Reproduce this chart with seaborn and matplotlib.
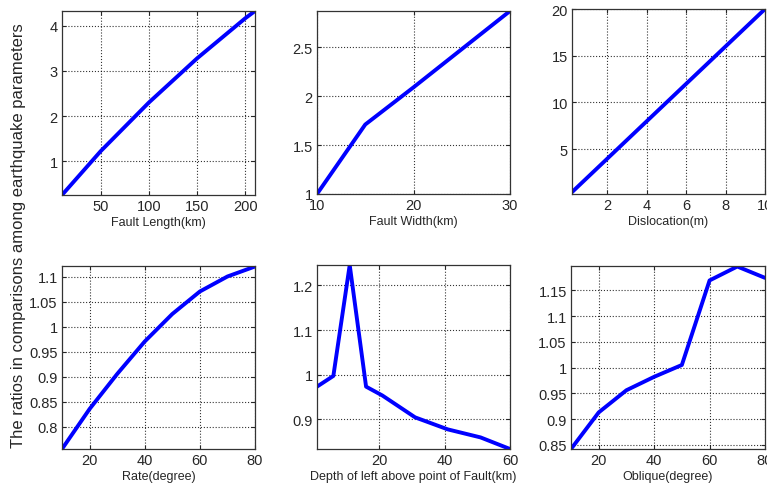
import numpy as np
import pandas as pd
import seaborn as sns
import matplotlib.pyplot as plt

# Data
length_x = [10, 50, 100, 150, 200, 210]
length_y = [0.25, 1.22, 2.3, 3.28, 4.17, 4.33]

width_x = [10, 15, 20, 25, 30]
width_y = [1.0, 1.71, 2.09, 2.48, 2.87]

disloc_x = [0.2, 2, 4, 6, 8, 10]
disloc_y = [0.4, 4.0, 8.0, 12.0, 16.0, 20.0]

rate_x = [10, 20, 30, 40, 50, 60, 70, 80]
rate_y = [0.755, 0.835, 0.905, 0.97, 1.025, 1.07, 1.10, 1.12]

depth_x = [1, 6, 11, 16, 21, 31, 41, 51, 60]
depth_y = [0.973, 0.997, 1.246, 0.973, 0.953, 0.904, 0.877, 0.859, 0.833]

oblique_x = [10, 20, 30, 40, 50, 60, 70, 80]
oblique_y = [0.842, 0.913, 0.956, 0.982, 1.005, 1.169, 1.196, 1.174]

sns.set_style("white")
plt.rcParams['font.family'] = ['Liberation Sans', 'DejaVu Sans']

fig = plt.figure(figsize=(7.67, 4.85), dpi=100)

W, H = 767, 485
def box(left, top, right, bottom):
    return [left / W, 1 - bottom / H, (right - left) / W, (bottom - top) / H]

panels = [
    (box(62, 12, 255, 196), length_x, length_y, "Fault Length(km)",
     (10, 210), (0.25, 4.33), [50, 100, 150, 200], [1, 2, 3, 4]),
    (box(317, 12, 510, 195), width_x, width_y, "Fault Width(km)",
     (10, 30), (1, 2.87), [10, 20, 30], [1, 1.5, 2, 2.5]),
    (box(572, 10, 765, 195), disloc_x, disloc_y, "Dislocation(m)",
     (0.2, 10), (0.2, 20), [2, 4, 6, 8, 10], [5, 10, 15, 20]),
    (box(62, 267, 255, 450), rate_x, rate_y, "Rate(degree)",
     (10, 80), (0.755, 1.121), [20, 40, 60, 80], [0.8, 0.85, 0.9, 0.95, 1, 1.05, 1.1]),
    (box(317, 266, 510, 450), depth_x, depth_y, "Depth of left above point of Fault(km)",
     (1, 60), (0.833, 1.246), [20, 40, 60], [0.9, 1, 1.1, 1.2]),
    (box(571, 267, 765, 450), oblique_x, oblique_y, "Oblique(degree)",
     (10, 80), (0.842, 1.197), [20, 40, 60, 80], [0.85, 0.9, 0.95, 1, 1.05, 1.1, 1.15]),
]

for rect, xs, ys, xlabel, xlim, ylim, xt, yt in panels:
    ax = fig.add_axes(rect)
    df = pd.DataFrame({"x": xs, "y": ys})
    sns.lineplot(data=df, x="x", y="y", ax=ax, color="#0000ff", linewidth=2.8)
    ax.set_xlim(*xlim)
    ax.set_ylim(*ylim)
    ax.set_xticks(xt)
    ax.set_yticks(yt)
    ax.set_xticklabels([f"{v:g}" for v in xt])
    ax.set_yticklabels([f"{v:g}" for v in yt])
    ax.grid(True, linestyle=":", color="black", linewidth=0.8, alpha=0.8)
    ax.tick_params(direction="in", length=3, labelsize=10.5, pad=3,
                   bottom=True, left=True, top=True, right=True)
    for s in ax.spines.values():
        s.set_color("#333333")
        s.set_linewidth(0.9)
    ax.set_xlabel(xlabel, fontsize=9, labelpad=2)
    ax.set_ylabel("")

fig.text(0.024, 0.515, "The ratios in comparisons among earthquake parameters",
         rotation=90, va="center", ha="center", fontsize=12)

fig.savefig("out.png", dpi=100)
